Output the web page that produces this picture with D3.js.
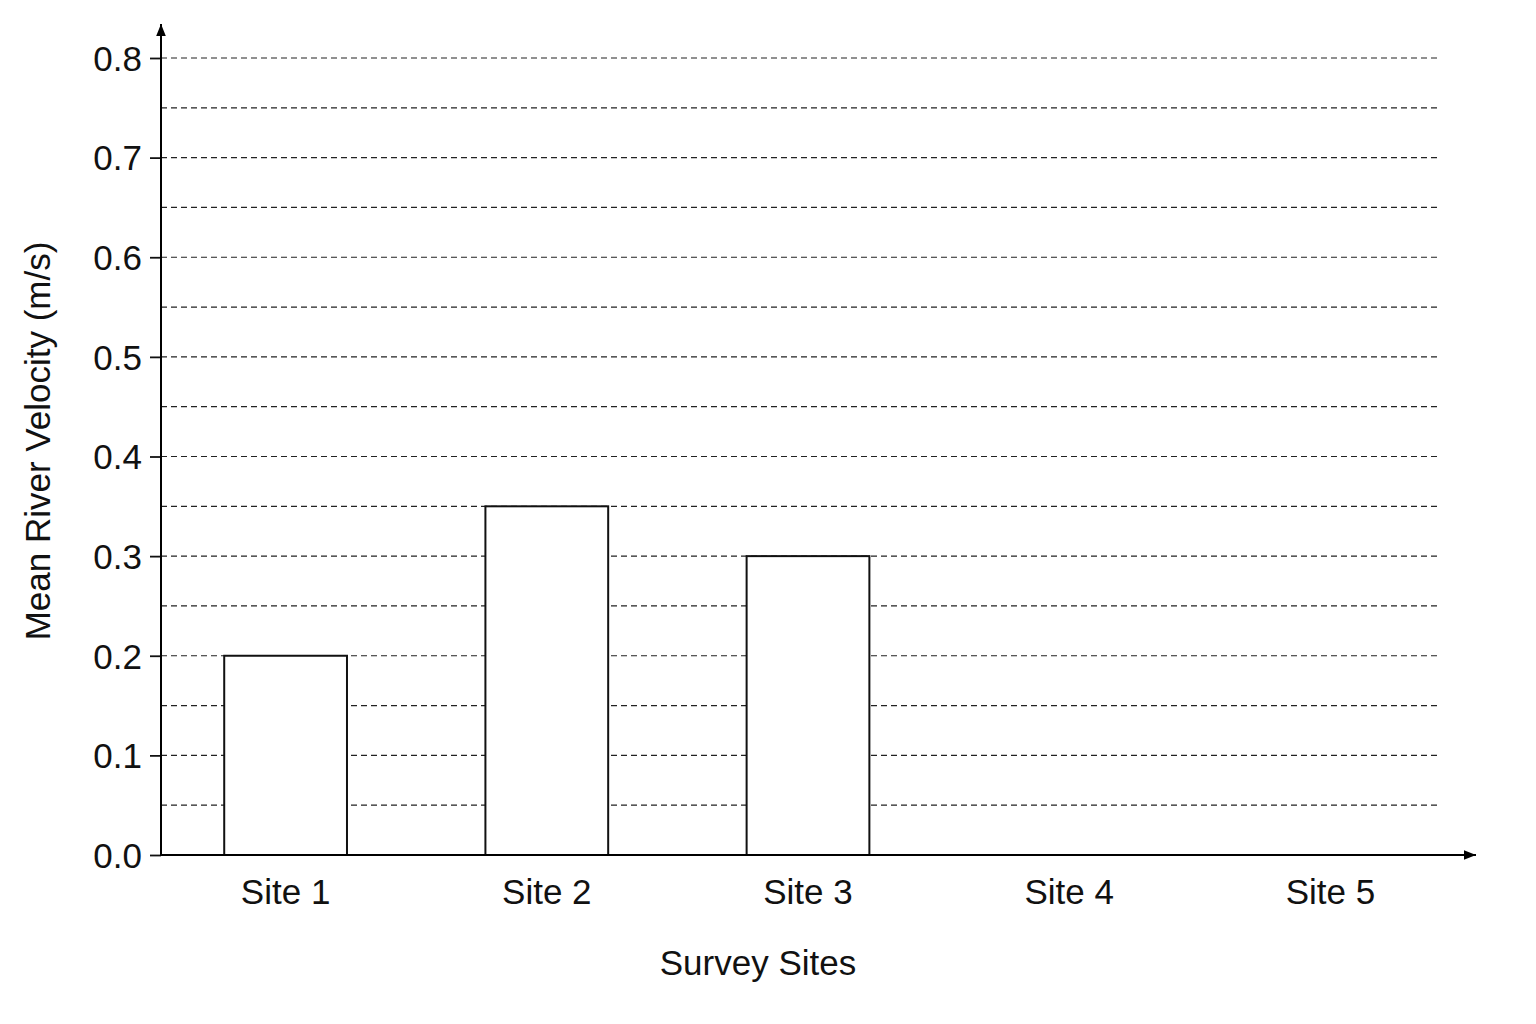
<!DOCTYPE html><html><head><meta charset="utf-8">
<script src="https://cdn.jsdelivr.net/npm/d3@7"></script>
<style>body{margin:0;background:#fff}text{font-family:"Liberation Sans Narrow","Arial Narrow","Liberation Sans",Arial,sans-serif;fill:#111}</style></head><body>
<svg id="c" width="1536" height="1024"></svg>
<script>
const categories=["Site 1","Site 2","Site 3","Site 4","Site 5"];
const values=[0.20,0.35,0.30,null,null];
const yTicks=[0,0.1,0.2,0.3,0.4,0.5,0.6,0.7,0.8];
const gridTicks=d3.range(1,17).map(i=>i*0.05);
const FF='"Liberation Sans Narrow","Arial Narrow","Liberation Sans",Arial,sans-serif';
const svg=d3.select("#c");
const x=d3.scaleBand().domain(categories).range([155,1461]).paddingInner(0.53).paddingOuter(0.265);
const y=d3.scaleLinear().domain([0,0.8]).range([855,58]);
svg.append("defs").append("marker").attr("id","ar").attr("viewBox","0 0 10 10").attr("refX",10).attr("refY",5)
 .attr("markerWidth",14).attr("markerHeight",12).attr("orient","auto-start-reverse").attr("markerUnits","userSpaceOnUse")
 .append("path").attr("d","M0,1L10,5L0,9z").attr("fill","#000");
svg.append("g").selectAll("line").data(gridTicks).join("line")
 .attr("x1",161).attr("x2",1440).attr("y1",d=>y(d)).attr("y2",d=>y(d))
 .attr("stroke","#222").attr("stroke-width",1.2).attr("stroke-dasharray","6,4");
svg.append("g").selectAll("rect").data(categories.map((c,i)=>({c,v:values[i]})).filter(d=>d.v!=null)).join("rect")
 .attr("x",d=>x(d.c)).attr("width",x.bandwidth()).attr("y",d=>y(d.v)).attr("height",d=>y(0)-y(d.v))
 .attr("fill","#fff").attr("stroke","#111").attr("stroke-width",2);
const ya=svg.append("g").attr("transform","translate(161,0)")
 .call(d3.axisLeft(y).tickValues(yTicks).tickFormat(d3.format(".1f")).tickSize(11).tickPadding(8));
ya.select(".domain").remove();
ya.selectAll("line").attr("stroke","#111").attr("stroke-width",1.8);
ya.selectAll("text").attr("font-size",35).attr("dy","0.35em").attr("font-family",FF);
const xa=svg.append("g").attr("transform","translate(0,855)").call(d3.axisBottom(x).tickSize(0).tickPadding(24));
xa.select(".domain").remove();
xa.selectAll("text").attr("font-size",35).attr("dy","0.71em").attr("font-family",FF);
svg.append("line").attr("x1",161).attr("y1",856).attr("x2",161).attr("y2",24).attr("stroke","#000").attr("stroke-width",2).attr("marker-end","url(#ar)");
svg.append("line").attr("x1",160).attr("y1",855).attr("x2",1476).attr("y2",855).attr("stroke","#000").attr("stroke-width",2).attr("marker-end","url(#ar)");
svg.append("text").attr("x",758).attr("y",975).attr("text-anchor","middle").attr("font-size",35).attr("font-family",FF).text("Survey Sites");
svg.append("text").attr("transform","translate(50,441) rotate(-90)").attr("text-anchor","middle").attr("font-size",35).attr("font-family",FF).text("Mean River Velocity (m/s)");
</script></body></html>
